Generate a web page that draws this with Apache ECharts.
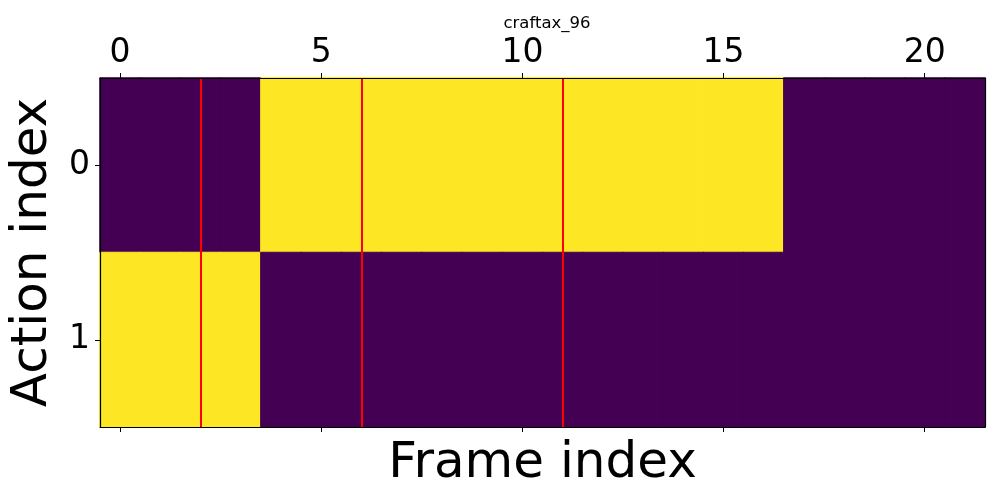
<!DOCTYPE html>
<html>
<head>
<meta charset="utf-8">
<script src="https://cdn.jsdelivr.net/npm/echarts@6/dist/echarts.min.js"></script>
<style>html,body{margin:0;padding:0;background:#fff}#c{width:1000px;height:500px}</style>
</head>
<body>
<div id="c"></div>
<script>
const titleText = 'craftax_96';
const frames = Array.from({length: 22}, (_, i) => String(i));
const actions = ['0', '1'];
const action0 = [0,0,0,0,1,1,1,1,1,1,1,1,1,1,1,1,1,0,0,0,0,0];
const action1 = [1,1,1,1,0,0,0,0,0,0,0,0,0,0,0,0,0,0,0,0,0,0];
const redLines = [2, 6, 11];

const palette = ['#440154', '#fde725'];
const rows = [action0, action1];
const data = [];
rows.forEach((r, yi) => r.forEach((v, xi) => data.push({
  value: [xi, yi, v],
  itemStyle: {color: palette[v], borderColor: palette[v], borderWidth: 1}
})));

const font = 'DejaVu Sans';
const tickShown = (i) => i % 5 === 0;
const chart = echarts.init(document.getElementById('c'));
chart.setOption({
  animation: false,
  title: {
    text: titleText, left: 542, top: 10, textAlign: 'center',
    textStyle: {fontFamily: font, fontSize: 16.5, fontWeight: 'normal', color: '#000'}
  },
  grid: {left: 100, top: 78, width: 885, height: 349, containLabel: false, outerBoundsMode: 'none'},
  xAxis: [{
    type: 'category', data: frames, position: 'top', z: 10,
    axisLine: {lineStyle: {color: '#000', width: 1.2}},
    axisTick: {show: true, alignWithLabel: true, length: 5, interval: tickShown, lineStyle: {color: '#000', width: 1}},
    axisLabel: {interval: tickShown, fontFamily: font, fontSize: 33, color: '#000', margin: 8},
    splitLine: {show: false}
  }, {
    type: 'category', data: frames, position: 'bottom', z: 10,
    name: 'Frame index', nameLocation: 'middle', nameGap: 12,
    nameTextStyle: {fontFamily: font, fontSize: 50, color: '#000'},
    axisLine: {lineStyle: {color: '#000', width: 1.2}},
    axisTick: {show: true, alignWithLabel: true, length: 5, interval: tickShown, lineStyle: {color: '#000', width: 1}},
    axisLabel: {show: false},
    splitLine: {show: false}
  }],
  yAxis: [{
    type: 'category', data: actions, inverse: true, position: 'left', z: 10,
    name: 'Action index', nameLocation: 'middle', nameGap: 40, nameRotate: 90,
    nameTextStyle: {fontFamily: font, fontSize: 50, color: '#000'},
    axisLine: {lineStyle: {color: '#000', width: 1.2}},
    axisTick: {show: true, alignWithLabel: true, length: 5, lineStyle: {color: '#000', width: 1}},
    axisLabel: {fontFamily: font, fontSize: 33, color: '#000', margin: 10},
    splitLine: {show: false}
  }, {
    type: 'category', data: actions, inverse: true, position: 'right', z: 10,
    axisLine: {lineStyle: {color: '#000', width: 1.2}},
    axisTick: {show: false}, axisLabel: {show: false}, splitLine: {show: false}
  }],
  series: [{
    type: 'heatmap', xAxisIndex: 0, yAxisIndex: 0, data: data,
    emphasis: {disabled: true},
    markLine: {
      silent: true, symbol: 'none', label: {show: false},
      lineStyle: {color: '#ff0000', width: 2, type: 'solid'},
      data: redLines.map(v => ({xAxis: String(v)}))
    }
  }]
});
</script>
</body>
</html>
